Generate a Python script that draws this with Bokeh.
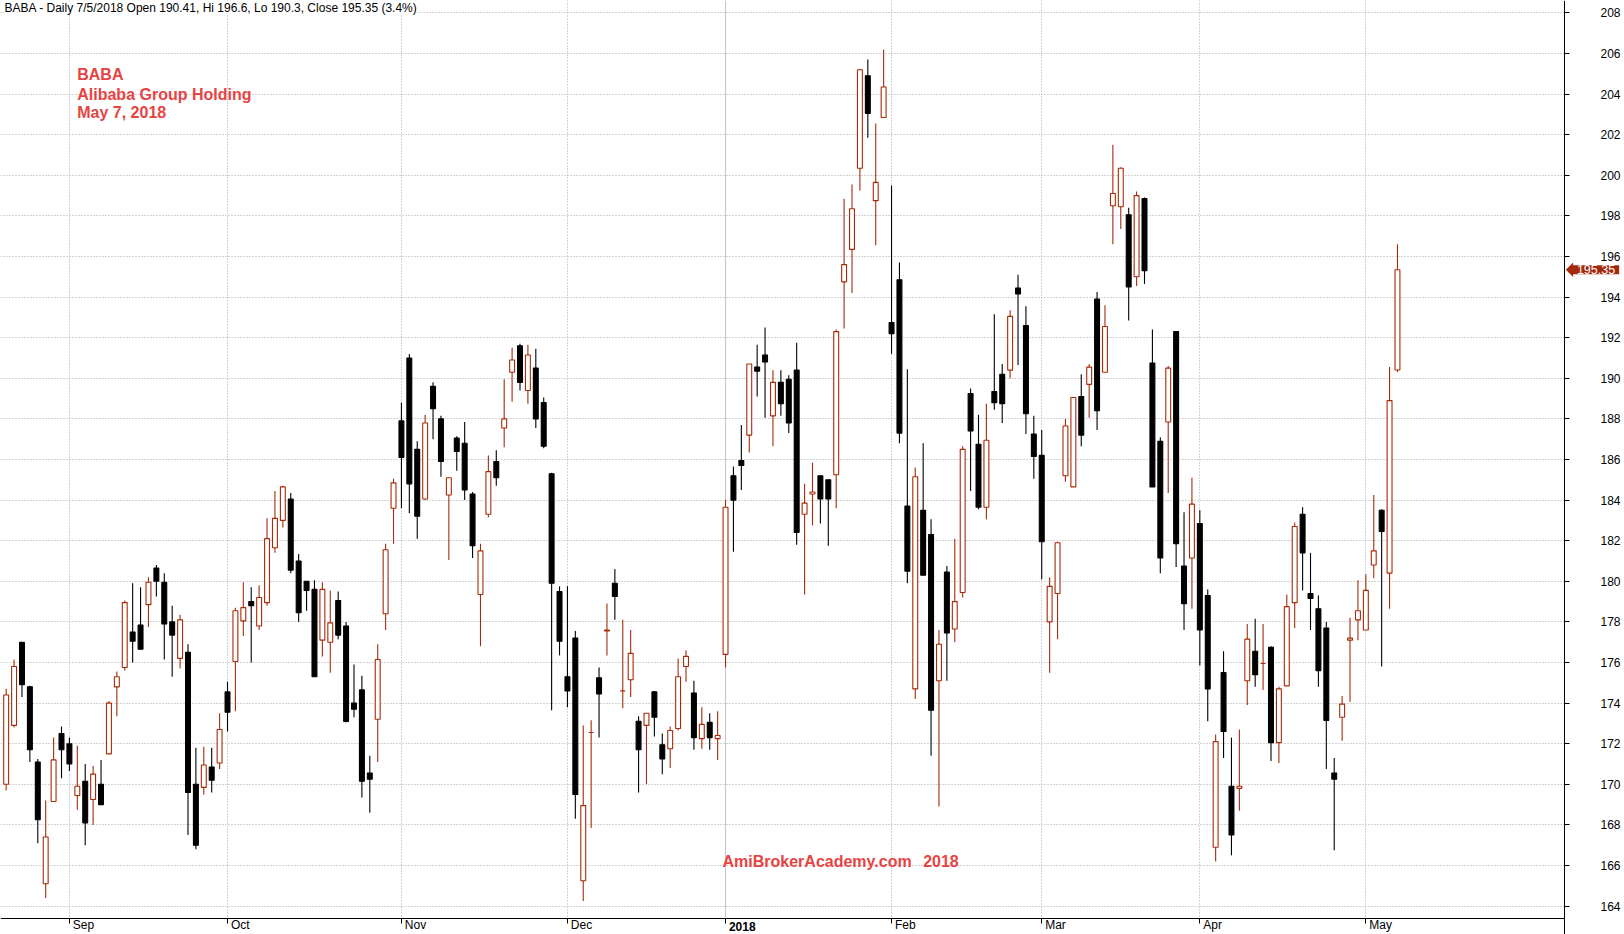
from bokeh.plotting import figure
from bokeh.models import FixedTicker, Label, Span, PolyAnnotation, BoxAnnotation, Range1d
from bokeh.embed import file_html
from bokeh.resources import INLINE

# ---------------- data (BABA daily, 22 Aug 2017 .. 7 May 2018) ----------------
opens = [170.0, 172.9, 177.0, 174.8, 171.1, 165.1, 169.15, 172.5,
         172.0, 169.45, 170.15, 169.25, 170.0, 171.5, 174.8, 175.75, 177.5, 177.85,
         178.85, 180.65, 179.95, 178.0, 176.2, 176.5, 170.0, 169.85, 170.85, 171.05,
         174.55, 176.05, 178.05, 179.0, 177.8, 178.95, 181.65, 183.0, 184.05, 181.0,
         180.0, 179.6, 177.1, 177.0, 179.05, 177.8, 174.0, 174.65, 170.55, 173.2, 178.4, 183.6,
         187.9, 191.0, 186.5, 184.05, 189.6, 188.0, 184.25, 187.05, 186.8, 184.3, 179.35,
         183.3, 185.9, 187.55, 190.3, 191.6, 189.4, 190.5, 188.8, 185.3, 179.5,
         175.3, 177.2, 165.25, 172.55, 175.25, 177.55, 179.9, 174.6, 175.15, 173.1,
         172.9, 174.55, 171.95, 171.75, 172.75, 175.8, 174.5, 172.25, 173.05, 172.25,
         176.4, 185.2, 185.95, 187.2, 190.55, 191.15, 188.15, 189.8, 189.95, 190.4, 183.3,
         184.3, 185.2, 185.0, 185.25, 194.75, 196.35, 200.35, 204.9, 198.75, 202.85,
         192.75, 194.85, 183.7, 174.7, 183.5, 182.3, 175.1, 180.45, 177.65, 179.45,
         189.25, 186.75, 183.65, 189.35, 190.2, 190.4, 194.45, 192.6, 187.25,
         186.2, 178.0, 179.4, 185.2, 184.65, 189.1, 189.7, 193.9, 190.3, 198.5,
         198.45, 198.05, 195.0, 198.85, 190.75, 186.9, 187.85, 192.3, 180.75, 181.15,
         182.85, 179.3, 166.9, 175.5, 169.9, 169.8, 175.1, 176.55, 175.95, 176.75, 172.05,
         174.85, 178.95, 183.3, 179.4, 178.65, 177.7, 170.55, 173.3, 177.1, 178.1,
         177.6, 180.8, 183.5, 180.4, 190.41]
highs = [174.7, 176.15, 177.0, 174.85, 171.25, 169.2, 172.3, 172.85,
         172.3, 171.9, 171.0, 170.9, 171.2, 174.1, 175.55, 179.05, 179.9, 179.7,
         180.2, 180.8, 180.4, 178.8, 178.35, 176.9, 171.8, 171.85, 171.8, 173.5,
         175.05, 178.7, 179.95, 179.7, 179.8, 183.1, 184.45, 184.7, 184.35, 181.35,
         180.0, 180.05, 179.95, 179.55, 179.5, 178.0, 175.9, 175.35, 171.4, 176.9, 181.85, 185.05,
         188.8, 191.2, 186.9, 188.2, 189.8, 188.15, 185.1, 187.15, 187.85, 184.4, 181.85,
         186.2, 186.45, 189.95, 191.5, 191.7, 191.65, 191.45, 189.05, 185.35, 179.75,
         179.75, 177.55, 172.9, 173.15, 175.75, 178.9, 180.6, 178.1, 177.6, 173.35,
         173.5, 174.6, 172.5, 172.85, 176.2, 176.6, 175.1, 173.8, 173.5, 173.6,
         184.0, 185.65, 187.7, 190.7, 191.65, 192.5, 190.4, 190.4, 190.15, 191.75, 184.8,
         185.85, 185.2, 185.0, 192.4, 198.85, 199.55, 205.25, 205.7, 202.55, 206.2,
         199.5, 195.7, 190.45, 185.6, 186.8, 183.05, 177.6, 180.75, 182.1, 186.65,
         189.5, 188.2, 188.75, 193.15, 190.7, 193.35, 195.1, 193.55, 188.15,
         187.45, 180.2, 181.95, 188.0, 189.05, 190.2, 190.7, 194.25, 193.6, 201.5,
         200.4, 198.4, 199.2, 198.9, 192.4, 187.1, 190.6, 192.3, 183.4, 185.1,
         183.5, 179.6, 172.45, 176.55, 172.3, 172.7, 177.9, 178.15, 177.9, 176.8, 174.8,
         179.35, 182.9, 183.65, 181.4, 179.3, 178.0, 171.3, 174.35, 178.2, 180.05,
         180.35, 184.25, 183.55, 190.55, 196.6]
lows = [169.7, 172.8, 174.3, 171.1, 167.1, 164.4, 169.15, 170.3,
        170.65, 168.75, 167.0, 168.0, 169.0, 171.5, 173.35, 175.6, 176.0, 176.65,
        177.75, 179.25, 176.15, 175.3, 175.7, 167.5, 166.8, 169.5, 169.6, 170.75,
        172.6, 173.6, 177.3, 176.0, 177.6, 178.8, 181.4, 182.65, 180.4, 178.0,
        178.55, 175.3, 176.3, 175.5, 177.15, 173.05, 173.3, 169.35, 168.6, 171.1, 177.6, 181.85,
        183.6, 183.35, 182.1, 184.0, 187.0, 185.15, 181.05, 185.45, 184.0, 181.15, 176.8,
        183.15, 184.7, 186.6, 188.85, 189.4, 188.75, 187.55, 186.55, 173.65, 176.35,
        173.8, 168.3, 164.25, 167.85, 172.3, 176.35, 178.1, 173.75, 174.3, 169.6,
        170.0, 172.35, 170.5, 170.8, 172.65, 175.05, 171.7, 171.75, 171.7, 171.2,
        175.75, 181.45, 184.5, 186.35, 189.1, 188.05, 186.65, 188.15, 187.3, 181.8, 179.35,
        182.75, 182.85, 181.75, 183.6, 192.45, 194.2, 199.25, 201.85, 196.55, 202.85,
        191.2, 186.8, 179.9, 174.2, 180.3, 171.4, 168.9, 175.1, 177.0, 179.2,
        184.45, 183.55, 183.05, 188.45, 187.8, 190.0, 190.65, 187.25, 185.05,
        180.1, 175.5, 177.15, 184.9, 184.65, 186.65, 188.05, 187.45, 190.3, 196.6,
        197.35, 192.85, 194.55, 194.65, 184.65, 180.4, 184.35, 180.7, 177.6, 178.65,
        175.85, 173.1, 166.2, 171.3, 166.5, 168.7, 173.9, 174.8, 174.65, 171.15, 171.05,
        174.85, 177.7, 179.55, 177.6, 174.8, 170.75, 166.75, 172.15, 174.05, 177.1,
        177.6, 180.15, 175.8, 178.65, 190.3]
closes = [174.4, 175.8, 174.9, 171.7, 168.25, 167.4, 171.2, 171.7,
          171.0, 169.9, 168.1, 170.5, 169.0, 174.0, 175.3, 178.95, 177.05, 176.65,
          179.95, 180.0, 177.9, 177.35, 178.1, 169.6, 167.0, 170.95, 170.2, 172.7,
          173.55, 178.55, 178.7, 178.8, 179.2, 182.1, 183.1, 184.65, 180.55, 178.45,
          179.55, 175.3, 179.6, 177.95, 177.35, 173.1, 173.7, 170.15, 170.25, 176.15, 181.55, 184.85,
          186.1, 184.8, 183.2, 187.8, 188.5, 185.9, 185.1, 186.4, 184.5, 181.75, 181.5,
          185.4, 185.1, 188.0, 190.9, 189.8, 191.15, 188.0, 186.65, 179.9, 177.05,
          174.6, 169.5, 168.95, 172.55, 174.45, 177.6, 179.25, 174.6, 176.45, 171.7,
          173.5, 173.3, 171.25, 172.65, 175.3, 176.3, 172.3, 172.95, 172.3, 172.4,
          183.65, 184.0, 185.7, 190.7, 190.35, 190.8, 189.8, 188.75, 187.8, 182.4, 183.85,
          184.4, 184.05, 184.05, 192.3, 195.6, 198.35, 205.2, 203.05, 199.65, 204.35,
          192.2, 187.3, 180.5, 185.15, 180.3, 173.65, 176.9, 177.45, 179.0, 186.5,
          187.4, 183.65, 186.95, 188.8, 188.75, 193.05, 194.15, 188.25, 186.15,
          181.95, 179.75, 181.9, 187.65, 189.05, 187.2, 190.55, 188.4, 192.55, 199.1,
          200.35, 194.5, 199.0, 195.3, 184.65, 181.15, 190.5, 181.85, 178.9, 183.8,
          177.6, 174.7, 172.1, 172.6, 167.5, 169.9, 177.15, 175.4, 175.95, 172.05, 174.7,
          178.75, 182.7, 181.4, 179.15, 175.6, 173.15, 170.25, 173.95, 177.2, 178.55,
          179.55, 181.5, 182.45, 188.9, 195.35]

sessions = list(range(len(opens)))          # trading-session index on the x axis
month_labels = ["Sep", "Oct", "Nov", "Dec", "2018", "Feb", "Mar", "Apr", "May"]
month_start = [8, 28, 50, 71, 91, 112, 131, 151, 172]   # session index of 1st day
price_ticks = list(range(164, 209, 2))
last_close = 195.35
title_text = "BABA - Daily 7/5/2018 Open 190.41, Hi 196.6, Lo 190.3, Close 195.35 (3.4%)"
info_lines = ["BABA", "Alibaba Group Holding", "May 7, 2018"]

# ---------------- styling / layout ----------------
RED = "#a82a08"
TXT_RED = "#e64444"
GRID = "#a8a8a8"
MARK = "#a3290d"
FONT = "Liberation Sans"
W, H = 1624, 934
X0, XE = -0.717, 204.72          # whole canvas width in session units
X_AXIS = 197.13                  # where the price axis sits
Y_BOT, Y1 = 162.60, 208.61       # whole canvas height in price units
Y_AXIS = 163.39                  # where the date axis sits
PX_PER_IDX = W / (XE - X0)
PX_PER_UNIT = H / (Y1 - Y_BOT)

p = figure(width=W, height=H, output_backend="svg", toolbar_location=None,
           x_range=Range1d(X0, XE), y_range=Range1d(Y_BOT, Y1),
           y_axis_location="right", title=None,
           min_border_left=0, min_border_top=0, min_border_right=0, min_border_bottom=0)
p.outline_line_color = None
p.background_fill_color = "white"
p.border_fill_color = "white"

# grid
p.ygrid.grid_line_color = GRID
p.ygrid.grid_line_dash = "1 2"
p.xgrid.ticker = FixedTicker(ticks=[m for m, l in zip(month_start, month_labels) if l != "2018"])
p.xgrid.grid_line_color = GRID
p.xgrid.grid_line_dash = "1 2"
for m, l in zip(month_start, month_labels):
    if l == "2018":
        p.add_layout(Span(location=m, dimension="height", line_color="#c4c4c4",
                          line_width=1, level="underlay"))
# blank the grid outside the chart area (axis zones)
p.add_layout(BoxAnnotation(left=X_AXIS, right=XE, bottom=Y_BOT, top=Y1, fill_color="white",
                           fill_alpha=1, line_color=None, level="underlay"))
p.add_layout(BoxAnnotation(left=X0, right=XE, bottom=Y_BOT, top=Y_AXIS, fill_color="white",
                           fill_alpha=1, line_color=None, level="underlay"))

# right price axis
ya = p.yaxis[0]
ya.fixed_location = X_AXIS
ya.ticker = FixedTicker(ticks=price_ticks)
ya.axis_line_color = "black"
ya.major_tick_line_color = "black"
ya.major_tick_out = 5
ya.major_tick_in = 0
ya.minor_tick_line_color = None
ya.major_label_standoff = 31
ya.major_label_text_font = FONT
ya.major_label_text_font_size = "12px"
ya.major_label_text_color = "black"

# bottom month axis: labels left-aligned just right of the tick marks
label_w = {"Sep": 21.3, "Oct": 18.7, "Nov": 21.3, "Dec": 21.3, "2018": 26.7,
           "Feb": 20.7, "Mar": 20.7, "Apr": 18.7, "May": 22.7}
label_pos = [round(m + (3.4 + label_w[l] / 2) / PX_PER_IDX, 3)
             for m, l in zip(month_start, month_labels)]
xa = p.xaxis[0]
xa.fixed_location = Y_AXIS
xa.bounds = (X0, X_AXIS)
xa.ticker = FixedTicker(ticks=label_pos, minor_ticks=month_start)
# the year label is drawn in bold separately below
xa.major_label_overrides = {pos: ("" if l == "2018" else l)
                            for pos, l in zip(label_pos, month_labels)}
xa.axis_line_color = "black"
xa.major_tick_line_color = None
xa.major_tick_out = 0
xa.major_tick_in = 0
xa.minor_tick_line_color = "black"
xa.minor_tick_out = 5
xa.minor_tick_in = 0
xa.major_label_standoff = -5
xa.major_label_text_font = FONT
xa.major_label_text_font_size = "12px"
xa.major_label_text_color = "black"
for m, l in zip(month_start, month_labels):
    if l == "2018":
        p.add_layout(Label(x=m, y=Y_AXIS, x_offset=3.4, y_offset=-4, text=l,
                           text_baseline="top", text_align="left", text_font=FONT,
                           text_font_style="bold", text_font_size="12px",
                           text_color="black"))

# candles
up = [c >= o for o, c in zip(opens, closes)]
col = [RED if u else "black" for u in up]
fill = ["white" if u else "black" for u in up]
tops = [max(o, c) for o, c in zip(opens, closes)]
bots = [min(o, c) for o, c in zip(opens, closes)]
p.segment(x0=sessions, y0=lows, x1=sessions, y1=highs, line_color=col, line_width=1.1)
p.vbar(x=sessions, width=0.62, top=tops, bottom=bots, fill_color=fill, line_color=col,
       line_width=1.1)

# texts
p.add_layout(Label(x=X0, y=208.25, x_offset=4, text=title_text, text_baseline="middle",
                   text_font=FONT, text_font_size="12px", text_color="black",
                   background_fill_color="white"))
for line, yv in zip(info_lines, [204.97, 203.98, 203.08]):
    p.add_layout(Label(x=8.99, y=yv, text=line, text_baseline="middle",
                       text_font=FONT, text_font_style="bold",
                       text_font_size="16px", text_color=TXT_RED))
p.add_layout(Label(x=90.62, y=166.2, text="AmiBrokerAcademy.com", text_baseline="middle",
                   text_font=FONT, text_font_style="bold",
                   text_font_size="16px", text_color=TXT_RED))
p.add_layout(Label(x=116.0, y=166.2, text="2018", text_baseline="middle",
                   text_font=FONT, text_font_style="bold",
                   text_font_size="16px", text_color=TXT_RED))

# last price marker on the price axis
dy = 7.3 / PX_PER_UNIT
p.add_layout(PolyAnnotation(xs=[X_AXIS + 1.4 / PX_PER_IDX, X_AXIS + 8.6 / PX_PER_IDX,
                                X_AXIS + 8.6 / PX_PER_IDX],
                            ys=[last_close, last_close + dy, last_close - dy],
                            fill_color=MARK, fill_alpha=1, line_color=None))
p.add_layout(Label(x=X_AXIS, y=last_close, x_offset=8.4, text=f"{last_close:.2f}",
                   text_baseline="middle", text_font=FONT, text_font_size="12.5px",
                   text_color="white", background_fill_color=MARK, padding=(4, 0)))

open("out.html", "w").write(file_html(p, INLINE))
